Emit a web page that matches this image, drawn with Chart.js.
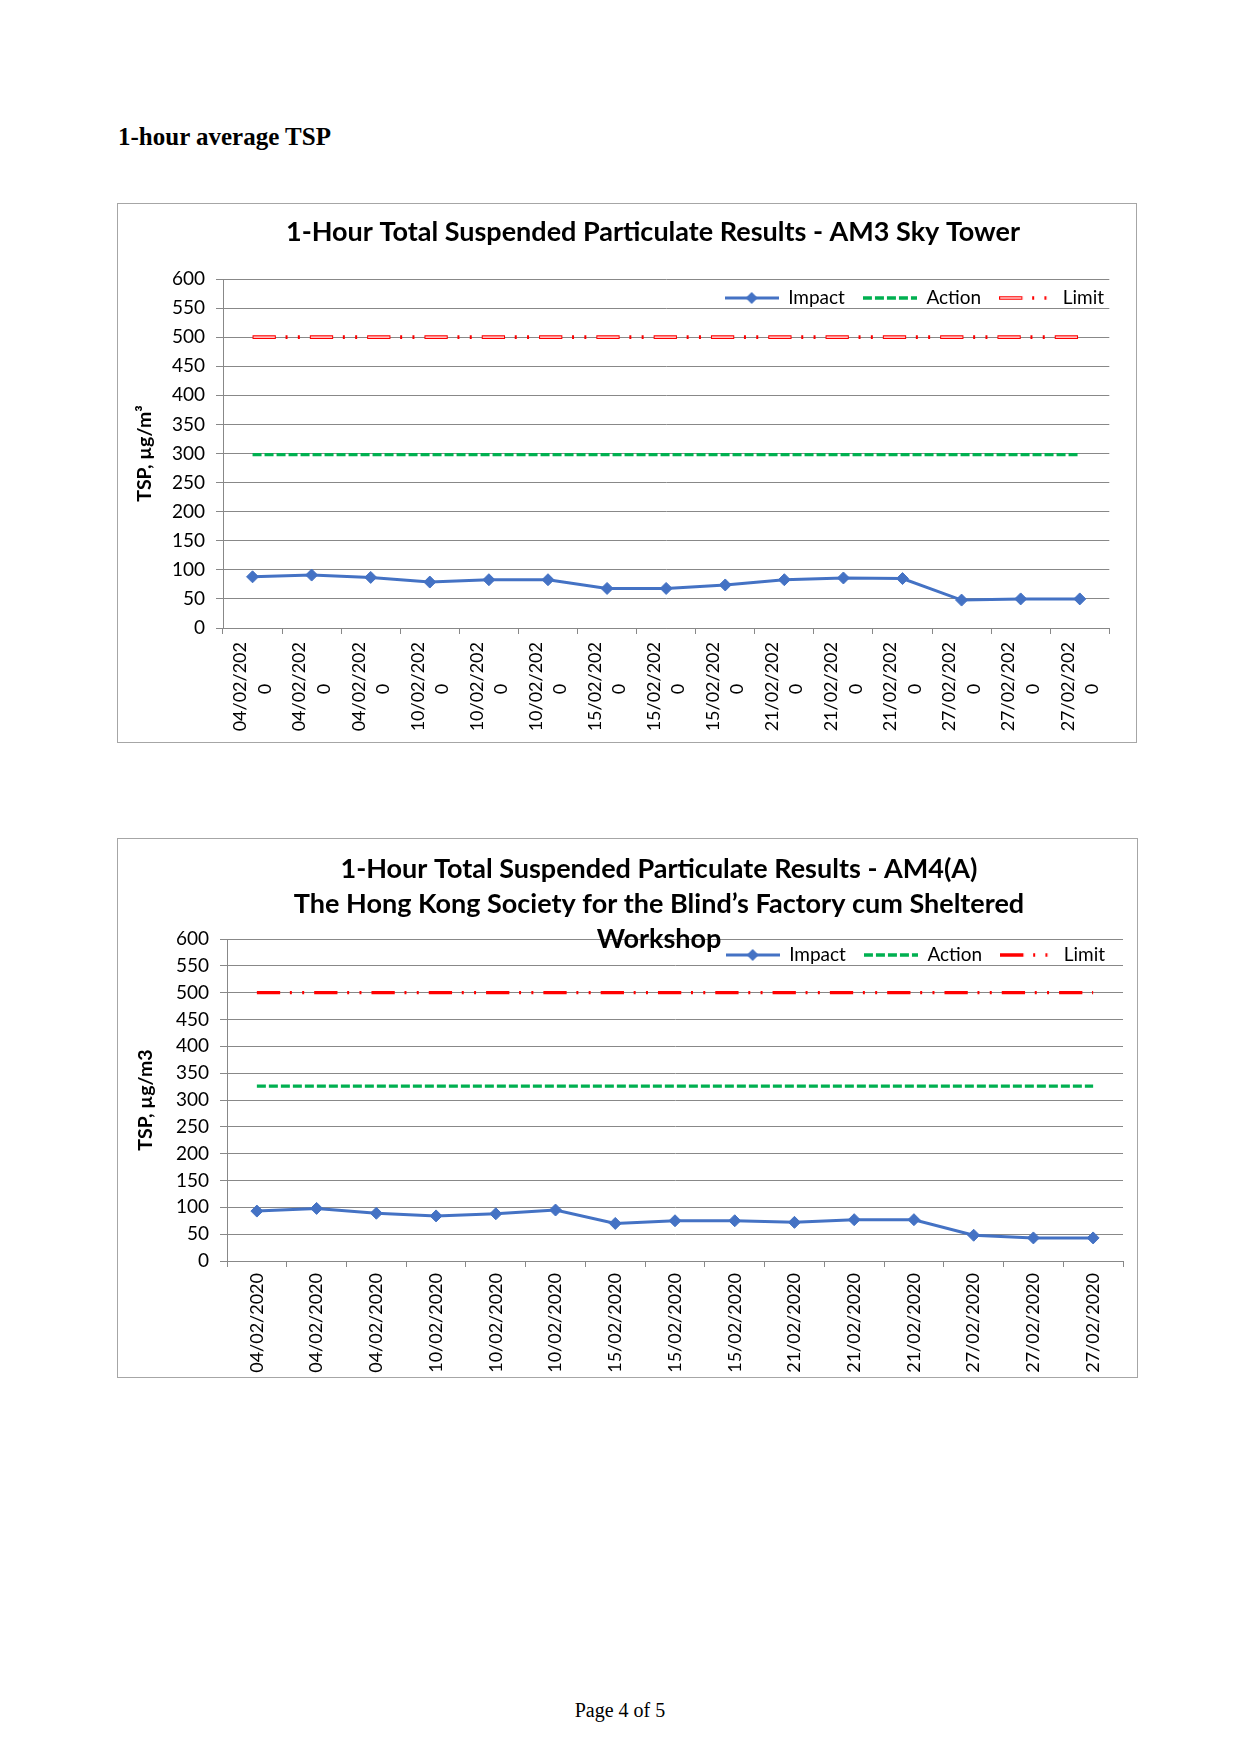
<!DOCTYPE html>
<html>
<head>
<meta charset="utf-8">
<title>1-hour average TSP</title>
<script src="https://cdn.jsdelivr.net/npm/chart.js@4.4.1/dist/chart.umd.min.js"></script>
<style>
  body { margin: 0; background: #fff; }
  .page { position: relative; width: 1240px; height: 1754px; }
  h1 { position: absolute; left: 118px; top: 122px; margin: 0; font: bold 25px/29px "Liberation Serif", serif; color: #000; }
  .box { position: absolute; outline: 1.5px solid #a6a6a6; outline-offset: -1px; }
  .footer { position: absolute; left: 0; top: 1696px; width: 1240px; text-align: center; font: 20px/28px "Liberation Serif", serif; color: #000; }
</style>
</head>
<body>
<div class="page">
  <h1>1-hour average TSP</h1>
  <div class="box" style="left:117px; top:203px; width:1020px; height:540px;"><canvas id="am3"></canvas></div>
  <div class="box" style="left:117px; top:838px; width:1021px; height:540px;"><canvas id="am4"></canvas></div>
  <div class="footer">Page 4 of 5</div>
</div>
<script>
// sampling dates (x axis tick labels), same for both stations
const dates = ['04/02/2020', '04/02/2020', '04/02/2020', '10/02/2020', '10/02/2020', '10/02/2020',
  '15/02/2020', '15/02/2020', '15/02/2020', '21/02/2020', '21/02/2020', '21/02/2020',
  '27/02/2020', '27/02/2020', '27/02/2020'];

// AM3 Sky Tower, µg/m3
const impactAM3 = [88, 91, 87, 79, 83, 83, 68, 68, 74, 83, 86, 85, 48, 50, 50];
const actionAM3 = [298, 298, 298, 298, 298, 298, 298, 298, 298, 298, 298, 298, 298, 298, 298];
const limitAM3 = [500, 500, 500, 500, 500, 500, 500, 500, 500, 500, 500, 500, 500, 500, 500];

// AM4(A) Hong Kong Society for the Blind, µg/m3
const impactAM4 = [93, 98, 89, 84, 88, 95, 70, 75, 75, 72, 77, 77, 48, 43, 43];
const actionAM4 = [326, 326, 326, 326, 326, 326, 326, 326, 326, 326, 326, 326, 326, 326, 326];
const limitAM4 = [500, 500, 500, 500, 500, 500, 500, 500, 500, 500, 500, 500, 500, 500, 500];

const yMin = 0, yMax = 600, yStep = 50;

const GRID = '#888888';
const BLUE = '#4472C4';
const GREEN = '#00B050';
const RED = '#FF0000';
const LIMIT_DASH = [23.3, 9.7, 2, 10.3, 2, 10];

Chart.defaults.font.family = 'Lato, "Noto Sans", sans-serif';
Chart.defaults.color = '#000';

// title and legend sit where Excel put them (over the plot), so they take no layout room
const placeBoxes = {
  id: 'placeBoxes',
  beforeInit(chart) {
    [chart.titleBlock, chart.legend].forEach(box => {
      const update = box.update.bind(box);
      box.update = (...args) => {
        update(...args);
        box.realHeight = box.height;
        box.height = 0;
      };
    });
  },
  afterLayout(chart, args, opts) {
    const t = chart.titleBlock;
    t.left = opts.titleX - chart.width / 2;
    t.right = opts.titleX + chart.width / 2;
    t.width = chart.width;
    t.top = opts.titleTop;
    t.height = t.realHeight;
    t.bottom = t.top + t.height;

    const lg = chart.legend;
    const pad = lg.options.labels.padding;
    const fs = lg.options.labels.font.size;
    lg.left = 0;
    lg.right = opts.legendRight + pad;
    lg.width = lg.right;
    lg.top = opts.legendY - pad - fs / 2;
    lg.height = lg.realHeight;
    lg.bottom = lg.top + lg.height;
  }
};

// little picture of each series' line for the legend
function legendSymbol(ds) {
  const w = 54, h = 14, c = document.createElement('canvas');
  c.width = w; c.height = h;
  const g = c.getContext('2d');
  g.lineCap = 'butt';
  g.strokeStyle = ds.borderColor;
  g.lineWidth = ds.borderWidth;
  g.setLineDash(ds.borderDash || []);
  g.beginPath(); g.moveTo(0, h / 2); g.lineTo(w, h / 2); g.stroke();
  if (ds.hollow) {
    g.strokeStyle = '#fff';
    g.lineWidth = 1.2;
    g.setLineDash([ds.borderDash[0] - 2, 100]);
    g.lineDashOffset = -1;
    g.beginPath(); g.moveTo(0, h / 2); g.lineTo(w, h / 2); g.stroke();
  }
  if (ds.pointStyle === 'rectRot') {
    const r = ds.pointRadius;
    g.setLineDash([]);
    g.fillStyle = ds.borderColor;
    g.beginPath();
    g.moveTo(w / 2, h / 2 - r); g.lineTo(w / 2 + r, h / 2);
    g.lineTo(w / 2, h / 2 + r); g.lineTo(w / 2 - r, h / 2);
    g.closePath(); g.fill();
  }
  return c;
}

function impactSet(data) {
  return {
    label: 'Impact', data, borderColor: BLUE, backgroundColor: BLUE, borderWidth: 3,
    pointStyle: 'rectRot', pointRadius: 6, pointBorderWidth: 1, pointBackgroundColor: BLUE, tension: 0
  };
}
function actionSet(data) {
  return { label: 'Action', data, borderColor: GREEN, borderWidth: 3.3, borderDash: [9, 3], borderCapStyle: 'butt', pointRadius: 0 };
}
function limitSet(data, hollow) {
  return { label: 'Limit', data, borderColor: RED, borderWidth: hollow ? 3.6 : 3.3, borderDash: LIMIT_DASH, borderCapStyle: 'butt', pointRadius: 0, hollow };
}

function buildChart(id, o) {
  return new Chart(document.getElementById(id), {
    type: 'line',
    data: { labels: dates, datasets: o.datasets },
    options: {
      responsive: true,
      maintainAspectRatio: false,
      animation: false,
      layout: { padding: o.padding },
      plugins: {
        title: {
          display: true, text: o.title, color: '#000', padding: 0,
          font: { size: 27, weight: 'bold', lineHeight: o.titleLine }
        },
        legend: {
          align: 'end',
          labels: {
            usePointStyle: true, pointStyleWidth: 54, padding: 18, color: '#000',
            font: { size: 19 },
            filter: item => item.datasetIndex < 3,
            generateLabels: chart => Chart.defaults.plugins.legend.labels.generateLabels(chart).map(item => {
              item.pointStyle = legendSymbol(chart.data.datasets[item.datasetIndex]);
              return item;
            })
          }
        },
        tooltip: { enabled: false },
        placeBoxes: o.place
      },
      scales: {
        x: {
          offset: true,
          afterFit: s => { s.height = o.xHeight; },
          grid: { offset: true, drawOnChartArea: false, tickLength: 6, color: GRID },
          border: { color: GRID },
          ticks: {
            autoSkip: false, maxRotation: 90, minRotation: 90, padding: o.xPad,
            labelOffset: o.xLabelOffset || 0,
            font: { size: 18, lineHeight: 1.35 },
            callback: o.xLabel
          }
        },
        y: {
          min: yMin, max: yMax,
          afterFit: s => { s.width = o.yWidth; },
          grid: { color: GRID, tickLength: 7 },
          border: { color: GRID },
          ticks: { stepSize: yStep, padding: 11, font: { size: 19 } },
          title: {
            display: true, text: o.yTitle, color: '#000',
            font: { size: 19.5, weight: 'bold', lineHeight: 1.2 },
            padding: { top: o.yTitlePad, bottom: 0 }
          }
        }
      }
    },
    plugins: [placeBoxes]
  });
}

// Excel wrapped the long dates in the first chart, leaving the last digit on its own line
const wrapDate = (value, index) => {
  const d = dates[index];
  return [d.slice(0, 9), d.slice(9) + '\u2007\u2007\u2007\u2007'];
};

buildChart('am3', {
  title: '1-Hour Total Suspended Particulate Results - AM3 Sky Tower',
  titleLine: 1.2,
  yTitle: 'TSP, µg/m³',
  datasets: [impactSet(impactAM3), actionSet(actionAM3), limitSet(limitAM3, true),
    { label: 'limit-core', data: limitAM3, borderColor: '#fff', borderWidth: 1.2,
      borderDash: [21.3, 36], borderDashOffset: -1, borderCapStyle: 'butt', pointRadius: 0, order: -1 }],
  padding: { top: 76, right: 19, left: 0, bottom: 0 },
  yWidth: 106, xHeight: 115, xPad: 8, xLabelOffset: -12,
  yTitlePad: 16,
  xLabel: wrapDate,
  place: { titleX: 536, titleTop: 13, legendRight: 987, legendY: 95 }
});

buildChart('am4', {
  title: ['1-Hour Total Suspended Particulate Results - AM4(A)',
    'The Hong Kong Society for the Blind’s Factory cum Sheltered', 'Workshop'],
  titleLine: 1.3,
  yTitle: 'TSP, µg/m3',
  datasets: [impactSet(impactAM4), actionSet(actionAM4), limitSet(limitAM4, false)],
  padding: { top: 101, right: 15, left: 0, bottom: 0 },
  yWidth: 110, xHeight: 117, xPad: 6,
  yTitlePad: 17,
  xLabel: (value, index) => dates[index],
  place: { titleX: 542, titleTop: 13.5, legendRight: 988, legendY: 117 }
});
</script>
</body>
</html>
